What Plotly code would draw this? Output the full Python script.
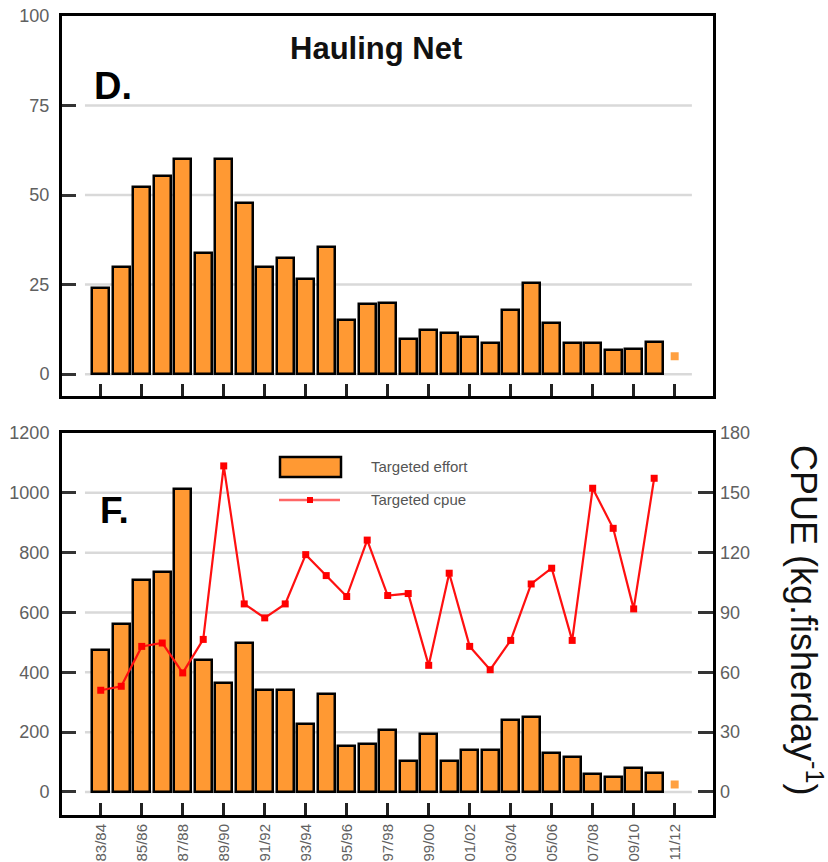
import plotly.graph_objects as go

# Fishing seasons (x categories)
seasons = ["83/84", "84/85", "85/86", "86/87", "87/88", "88/89", "89/90", "90/91",
           "91/92", "92/93", "93/94", "94/95", "95/96", "96/97", "97/98", "98/99",
           "99/00", "00/01", "01/02", "02/03", "03/04", "04/05", "05/06", "06/07",
           "07/08", "08/09", "09/10", "10/11", "11/12"]

# Panel D: hauling net effort, 83/84 .. 10/11
hauling_effort = [24, 30, 52.3, 55.4, 60.2, 33.9, 60, 47.7, 29.8, 32.3, 26.7, 35.6,
                  15.1, 19.7, 19.9, 9.7, 12.3, 11.4, 10.4, 8.6, 17.9, 25.5, 14.3,
                  8.6, 8.6, 6.7, 6.9, 9.0]
hauling_partial = [5]          # 11/12 partial season

# Panel F: targeted effort (left axis) and targeted CPUE (right axis)
targeted_effort = [473, 562, 710, 734, 1012, 440, 364, 499, 340, 340, 226, 329,
                   153, 159, 207, 103, 195, 104, 140, 140, 240, 249, 129, 118,
                   60, 49, 81, 62]
targeted_partial = [25]        # 11/12 partial season
targeted_cpue = [51, 53, 73, 74.7, 59.7, 76.5, 163.5, 94.3, 87.3, 94.3, 119, 108.5,
                 98, 126.3, 98.5, 99.5, 63.5, 109.7, 73, 61.3, 76, 104.3, 112.2,
                 76, 152.3, 132.2, 91.8, 157.3]

# Axis ticks
d_ticks = [0, 25, 50, 75, 100]
d_grid = [0, 25, 50, 75]
d_minor = [0, 10, 20, 30, 40, 50, 60, 70, 80, 90, 100]
f_ticks = [0, 200, 400, 600, 800, 1000, 1200]
f_grid = [0, 200, 400, 600, 800, 1000]
cpue_ticks = [0, 30, 60, 90, 120, 150, 180]
x_label_idx = list(range(0, len(seasons), 2))

W, H = 828, 862
FONT = "Liberation Sans, Arial, sans-serif"
ORANGE = "#FF9933"
TICK_FONT = dict(family=FONT, size=18, color="#606060")
XTICK_FONT = dict(family=FONT, size=15, color="#606060")

x_pos = list(range(len(seasons)))
n_full = len(hauling_effort)

fig = go.Figure()

# ---- Panel D ----
fig.add_trace(go.Bar(x=x_pos[:n_full], y=hauling_effort, width=0.82,
                     marker=dict(color=ORANGE, line=dict(color="black", width=2.5)),
                     xaxis="x", yaxis="y", showlegend=False))
fig.add_trace(go.Scatter(x=x_pos[n_full:], y=hauling_partial, mode="markers",
                         marker=dict(symbol="square", size=8, color="#FFA040"),
                         xaxis="x", yaxis="y", showlegend=False))

# ---- Panel F ----
fig.add_trace(go.Bar(x=x_pos[:n_full], y=targeted_effort, width=0.82,
                     marker=dict(color=ORANGE, line=dict(color="black", width=2.5)),
                     xaxis="x2", yaxis="y3", showlegend=False))
fig.add_trace(go.Scatter(x=x_pos[n_full:], y=targeted_partial, mode="markers",
                         marker=dict(symbol="square", size=8, color="#FFA040"),
                         xaxis="x2", yaxis="y3", showlegend=False))
fig.add_trace(go.Scatter(x=x_pos[:len(targeted_cpue)], y=targeted_cpue,
                         mode="lines+markers",
                         line=dict(color="#FF1010", width=2.2),
                         marker=dict(symbol="square", size=7, color="#FF0000"),
                         xaxis="x2", yaxis="y4", showlegend=False))

xdom = [62 / W, 713 / W]
d_dom = [1 - 396 / H, 1 - 16 / H]
f_dom = [1 - 815 / H, 1 - 433 / H]
x_range = [-1.89, 29.87]

frame = dict(showline=True, linecolor="black", linewidth=3, mirror=True,
             showgrid=False, zeroline=False, automargin=False)

fig.update_layout(
    width=W, height=H, margin=dict(l=0, r=0, t=0, b=0),
    paper_bgcolor="white", plot_bgcolor="white",
    bargap=0, showlegend=False,
    xaxis=dict(domain=xdom, range=x_range, anchor="y", **frame,
               ticks="inside", ticklen=12, tickwidth=2.5, tickcolor="#222",
               tickvals=x_label_idx, showticklabels=False),
    yaxis=dict(domain=d_dom, range=[-6.1, 100], anchor="x", **frame,
               ticks="inside", ticklen=14, tickwidth=3, tickcolor="#333",
               tickvals=d_ticks, tickfont=TICK_FONT, ticklabelstandoff=6),
    yaxis2=dict(domain=d_dom, range=[-6.1, 100], overlaying="y", side="right",
                anchor="x", showline=False, showgrid=False, zeroline=False,
                automargin=False,
                ticks="inside", ticklen=13, tickwidth=3, tickcolor="#333",
                tickvals=d_minor, showticklabels=False),
    xaxis2=dict(domain=xdom, range=x_range, anchor="y3", **frame,
                ticks="inside", ticklen=12, tickwidth=2.5, tickcolor="#222",
                tickvals=x_label_idx,
                ticktext=[seasons[i] for i in x_label_idx],
                tickangle=-90, tickfont=XTICK_FONT, ticklabelstandoff=0),
    yaxis3=dict(domain=f_dom, range=[-77, 1200], anchor="x2", **frame,
                ticks="inside", ticklen=14, tickwidth=3, tickcolor="#333",
                tickvals=f_ticks, tickfont=TICK_FONT, ticklabelstandoff=6),
    yaxis4=dict(domain=f_dom, range=[-11.55, 180], overlaying="y3", side="right",
                anchor="x2", showline=False, showgrid=False, zeroline=False,
                automargin=False,
                ticks="inside", ticklen=15, tickwidth=3, tickcolor="#333",
                tickvals=cpue_ticks, tickfont=TICK_FONT, ticklabelstandoff=6),
)

# Light horizontal gridlines, inset from the frame
shapes = []
for v in d_grid:
    shapes.append(dict(type="line", xref="x", yref="y", x0=-0.77, x1=28.84,
                       y0=v, y1=v, line=dict(color="#d9d9d9", width=2.5),
                       layer="below"))
for v in f_grid:
    shapes.append(dict(type="line", xref="x2", yref="y3", x0=-0.77, x1=28.84,
                       y0=v, y1=v, line=dict(color="#d9d9d9", width=2.5),
                       layer="below"))

# Legend for panel F
shapes.append(dict(type="rect", xref="paper", yref="paper",
                   x0=280 / W, x1=341 / W, y0=1 - 477 / H, y1=1 - 457 / H,
                   fillcolor=ORANGE, line=dict(color="black", width=2.5)))
shapes.append(dict(type="line", xref="paper", yref="paper",
                   x0=279 / W, x1=340 / W, y0=1 - 500 / H, y1=1 - 500 / H,
                   line=dict(color="#FF6666", width=2.5)))
shapes.append(dict(type="rect", xref="paper", yref="paper",
                   x0=307 / W, x1=313 / W, y0=1 - 503 / H, y1=1 - 497 / H,
                   fillcolor="#FF0000", line=dict(width=0)))
fig.update_layout(shapes=shapes)


def note(text, x, y, size, color, bold=False, xanchor="center", angle=0):
    return dict(text=f"<b>{text}</b>" if bold else text,
                x=x / W, y=1 - y / H, xref="paper", yref="paper",
                xanchor=xanchor, yanchor="middle", textangle=angle,
                showarrow=False, font=dict(family=FONT, size=size, color=color))


annotations = [
    note("Hauling Net", 376, 48, 31, "#111", bold=True),
    note("D.", 113, 86, 38, "black", bold=True),
    note("F.", 114, 510, 37, "black", bold=True),
    note("Targeted effort", 369, 466, 15, "#555", xanchor="left"),
    note("Targeted cpue", 369, 499, 15, "#555", xanchor="left"),
    note("CPUE (kg.fisherday<sup>-1</sup>)", 806, 620, 36, "#111", angle=90),
]
fig.update_layout(annotations=annotations)

fig.write_html("out.html")
